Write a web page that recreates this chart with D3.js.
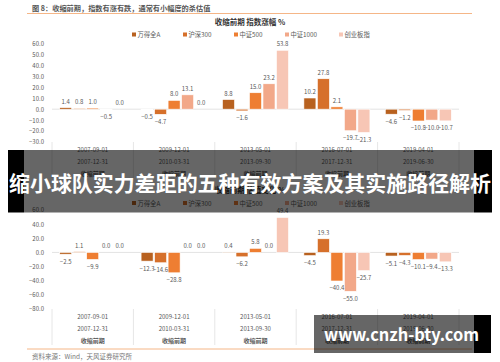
<!DOCTYPE html>
<html>
<head>
<meta charset="utf-8">
<script src="https://cdn.jsdelivr.net/npm/d3@7"></script>
<style>
  body { margin: 0; background: #fff; }
  text { font-family: "Noto Sans CJK SC", "Noto Sans", sans-serif; }
</style>
</head>
<body>
<div id="main"></div>
<script>
const W = 500, H = 362;

// données
const series = ["万得全A", "沪深300", "中证500", "中证1000", "创业板指"];
const colors = ["#b8611f", "#d6702b", "#ee7e32", "#f2a889", "#f7c6b5"];
const periodStart = ["2007-09-01", "2009-12-01", "2013-05-01", "2016-07-01", "2019-04-01"];
const periodEnd = ["2007-12-31", "2010-03-31", "2013-09-30", "2017-12-31", "2019-06-30"];
const periodName = "收缩前期";

// haut : indice de hausse (%)
const topValues = [
  [1.4, 0.8, 1.0, -0.5, 0.0],
  [-0.5, -4.7, 8.0, 13.1, 0.0],
  [8.8, -1.6, 15.0, 23.2, 53.8],
  [10.2, 27.8, 2.1, -19.7, -21.3],
  [-4.6, -1.2, -10.8, -10.0, -10.7]
];
const topTicks = [60, 50, 40, 30, 20, 10, 0, -10, -20, -30];

// bas : variation de valorisation (%)
const bottomValues = [
  [-2.5, 1.1, -9.9, 0.0, 0.0],
  [-12.3, -14.6, -28.8, 0.0, 0.0],
  [0.4, -6.2, 5.8, 0.0, 49.4],
  [-4.5, 19.3, -40.4, -55.0, -25.7],
  [-5.1, -4.3, -10.1, -9.4, -13.3]
];
const bottomTicks = [60, 40, 20, 0, -20, -40, -60, -80];

const svg = d3.select("#main").append("svg")
  .attr("width", W).attr("height", H);

// en-tête
svg.append("text").attr("x", 32).attr("y", 10.5)
  .attr("font-size", 7.2).attr("font-weight", "bold").attr("fill", "#555")
  .text("图 8：收缩前期，指数有涨有跌，通常有小幅度的杀估值");
svg.append("line").attr("x1", 27).attr("x2", 472).attr("y1", 13.5).attr("y2", 13.5)
  .attr("stroke", "#f5b687").attr("stroke-width", 1);
svg.append("line").attr("x1", 27).attr("x2", 472).attr("y1", 349).attr("y2", 349)
  .attr("stroke", "#f5b687").attr("stroke-width", 1);
svg.append("text").attr("x", 32).attr("y", 359)
  .attr("font-size", 6.5).attr("fill", "#777")
  .text("资料来源：Wind，天风证券研究所");

const x0 = d3.scaleBand().domain(d3.range(5)).range([52, 459]);
const x1 = d3.scaleBand().domain(d3.range(5)).range([0, x0.bandwidth()])
  .paddingInner(0.11).paddingOuter(0.57);

function drawChart(opt) {
  const g = svg.append("g");
  const y = d3.scaleLinear().domain(opt.domain).range(opt.range);

  g.append("text").attr("x", 250).attr("y", opt.titleY)
    .attr("text-anchor", "middle").attr("font-size", 7.5).attr("font-weight", "bold")
    .attr("fill", "#333").text(opt.title);

  // légende
  const legendX = [132, 183, 234, 285, 339];
  series.forEach((s, i) => {
    g.append("rect").attr("x", legendX[i]).attr("y", opt.legendY - 2.5)
      .attr("width", 4).attr("height", 4).attr("fill", colors[i]);
    g.append("text").attr("x", legendX[i] + 5.5).attr("y", opt.legendY + 2)
      .attr("font-size", 6.3).attr("fill", "#595959").text(s);
  });

  // axe Y
  const yAxis = g.append("g").attr("transform", "translate(47,0)")
    .call(d3.axisLeft(y).tickValues(opt.ticks).tickSize(0).tickFormat(d3.format(".1f")));
  yAxis.select(".domain").remove();
  yAxis.selectAll("text").attr("font-size", 6).attr("fill", "#595959")
    .attr("font-family", "Noto Sans CJK SC");

  g.append("line").attr("x1", 52).attr("x2", 459)
    .attr("y1", y(0)).attr("y2", y(0)).attr("stroke", "#e3e3e3").attr("stroke-width", 1);

  // barres
  const groups = g.selectAll(".grp").data(opt.values).enter().append("g")
    .attr("transform", (d, i) => `translate(${x0(i)},0)`);
  groups.selectAll("rect").data(d => d).enter().append("rect")
    .attr("x", (d, j) => x1(j))
    .attr("width", x1.bandwidth())
    .attr("y", d => y(Math.max(0, d)))
    .attr("height", d => Math.abs(y(d) - y(0)))
    .attr("fill", (d, j) => colors[j])
    .attr("stroke", "#fff").attr("stroke-width", 0.6);
  groups.selectAll("text").data(d => d).enter().append("text")
    .attr("x", (d, j) => x1(j) + x1.bandwidth() / 2)
    .attr("y", d => d >= 0 ? y(d) - 4 : y(d) + 9.5)
    .attr("text-anchor", "middle").attr("font-size", 6).attr("fill", "#595959")
    .text(d => d3.format(".1f")(d));

  // catégories
  const bottom = opt.range[0];
  x0.domain().forEach(i => {
    g.append("line").attr("x1", x0(i)).attr("x2", x0(i))
      .attr("y1", bottom).attr("y2", bottom + 36).attr("stroke", "#e6e6e6");
  });
  g.append("line").attr("x1", 459).attr("x2", 459)
    .attr("y1", bottom).attr("y2", bottom + 36).attr("stroke", "#e6e6e6");
  periodStart.forEach((s, i) => {
    const cx = x0(i) + x0.bandwidth() / 2;
    [s, periodEnd[i], periodName].forEach((t, k) => {
      g.append("text").attr("x", cx).attr("y", bottom + 10 + k * 12)
        .attr("text-anchor", "middle").attr("font-size", 6).attr("fill", "#595959")
        .attr("font-weight", k === 2 ? "bold" : "normal").text(t);
    });
  });
}

drawChart({
  title: "收缩前期 指数涨幅 %", titleY: 25, legendY: 35,
  values: topValues, ticks: topTicks, domain: [-30, 60], range: [142, 43.5]
});
drawChart({
  title: "收缩前期 估值变化 %", titleY: 193, legendY: 203.5,
  values: bottomValues, ticks: bottomTicks, domain: [-80, 60], range: [309, 210]
});

// bandeau superposé
svg.append("rect").attr("x", 24).attr("y", 150).attr("width", 450).attr("height", 62.5)
  .attr("fill", "#000").attr("fill-opacity", 0.6);
svg.append("rect").attr("x", 8).attr("y", 150).attr("width", 16).attr("height", 62.5).attr("fill", "#000");
svg.append("rect").attr("x", 474).attr("y", 150).attr("width", 18).attr("height", 62.5).attr("fill", "#000");
svg.append("text").attr("x", 9).attr("y", 182)
  .attr("dominant-baseline", "central").attr("font-size", 21).attr("font-weight", "bold")
  .attr("textLength", 482).attr("lengthAdjust", "spacingAndGlyphs")
  .attr("fill", "#fff").text("缩小球队实力差距的五种有效方案及其实施路径解析");

// filigrane
svg.append("rect").attr("x", 314).attr("y", 315).attr("width", 160).attr("height", 38)
  .attr("fill", "#000").attr("fill-opacity", 0.6);
svg.append("rect").attr("x", 474).attr("y", 315).attr("width", 17).attr("height", 38).attr("fill", "#000");
svg.append("text").attr("x", 324).attr("y", 341).attr("font-size", 17).attr("font-weight", "bold")
  .attr("textLength", 155).attr("lengthAdjust", "spacingAndGlyphs")
  .attr("font-family", "Noto Sans").attr("fill", "#fff").text("www.cnzh-bty.com");
</script>
</body>
</html>
